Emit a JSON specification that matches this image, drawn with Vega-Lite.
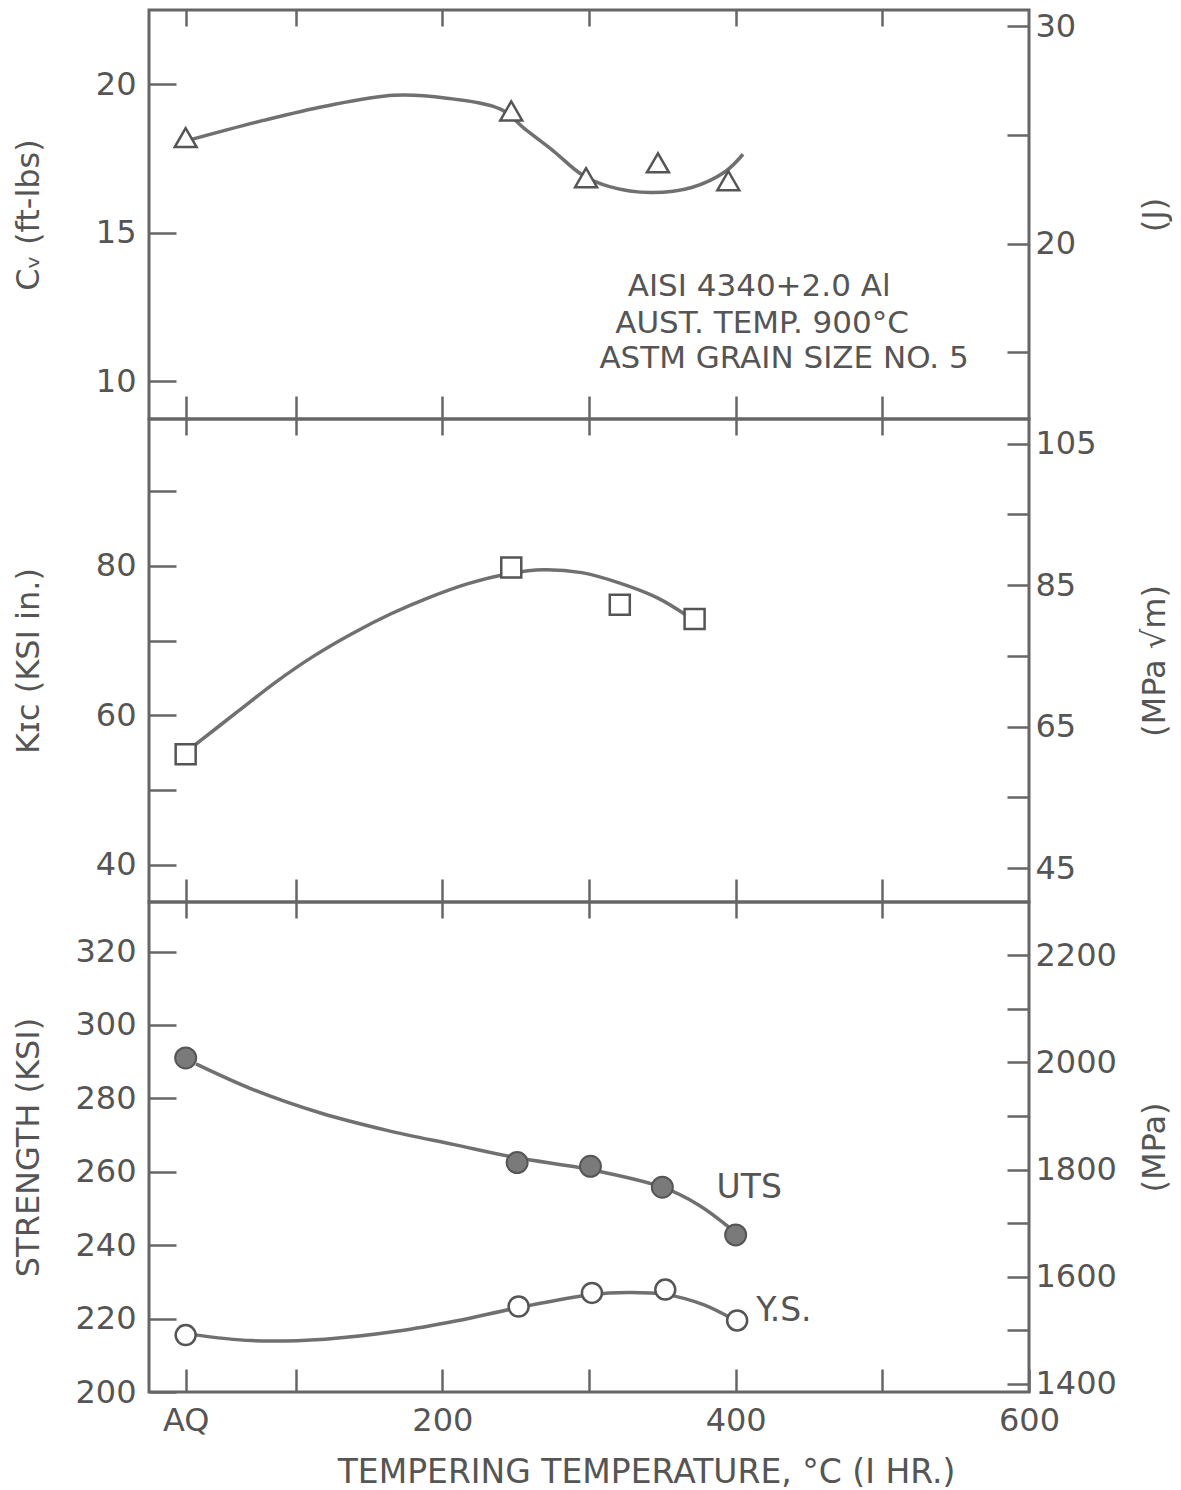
{
  "$schema": "https://vega.github.io/schema/vega-lite/v6.json",
  "background": "white",
  "padding": {"top": 7, "left": 10, "right": 5, "bottom": 5},
  "spacing": 0,
  "bounds": "flush",
  "config": {
    "view": {"stroke": "#666666", "strokeWidth": 3},
    "font": "DejaVu Sans",
    "axis": {
      "domain": false, "grid": false, "tickColor": "#666666", "tickWidth": 2.5,
      "labelColor": "#555555", "labelFont": "DejaVu Sans", "labelFontSize": 32,
      "titleColor": "#555555", "titleFont": "DejaVu Sans", "titleFontWeight": "normal", "titleFontSize": 32,
      "labelOverlap": false
    },
    "text": {"font": "DejaVu Sans", "color": "#555555"}
  },
  "datasets": {
    "cv": [{"T": 25, "v": 18.2}, {"T": 247, "v": 19.1}, {"T": 298, "v": 16.85}, {"T": 347, "v": 17.35}, {"T": 395, "v": 16.75}],
    "cvfit": [{"T": 29, "v": 18.14}, {"T": 78, "v": 18.78}, {"T": 120, "v": 19.26}, {"T": 167, "v": 19.63}, {"T": 203, "v": 19.53}, {"T": 240, "v": 19.15}, {"T": 256, "v": 18.5}, {"T": 276, "v": 17.74}, {"T": 295, "v": 16.96}, {"T": 314, "v": 16.55}, {"T": 342, "v": 16.35}, {"T": 370, "v": 16.52}, {"T": 393, "v": 17.06}, {"T": 405, "v": 17.64}],
    "notes": [{"T": 416, "v": 13.18, "text": "AISI 4340+2.0 Al"}, {"T": 418, "v": 11.93, "text": "AUST. TEMP. 900°C"}, {"T": 433, "v": 10.74, "text": "ASTM GRAIN SIZE NO. 5"}],
    "axJ": [{"T": 300, "v": 20}],
    "kic": [{"T": 25, "v": 54.8}, {"T": 247, "v": 79.8}, {"T": 321, "v": 74.8}, {"T": 372, "v": 72.9}],
    "kicfit": [{"T": 29, "v": 55.7}, {"T": 61, "v": 60.6}, {"T": 86, "v": 64.4}, {"T": 112, "v": 67.9}, {"T": 139, "v": 71.0}, {"T": 165, "v": 73.6}, {"T": 190, "v": 75.7}, {"T": 217, "v": 77.6}, {"T": 246, "v": 79.0}, {"T": 269, "v": 79.5}, {"T": 295, "v": 79.1}, {"T": 321, "v": 77.7}, {"T": 347, "v": 75.7}, {"T": 368, "v": 73.2}],
    "axM": [{"T": 300, "v": 75}],
    "uts": [{"T": 25, "v": 291.0}, {"T": 251, "v": 262.5}, {"T": 301, "v": 261.5}, {"T": 350, "v": 255.8}, {"T": 400, "v": 242.8}],
    "ys": [{"T": 25, "v": 215.5}, {"T": 252, "v": 223.3}, {"T": 302, "v": 227.0}, {"T": 352, "v": 227.9}, {"T": 401, "v": 219.5}],
    "utsfit": [{"T": 32, "v": 289.4}, {"T": 71, "v": 282.4}, {"T": 117, "v": 276.0}, {"T": 163, "v": 271.2}, {"T": 208, "v": 267.4}, {"T": 251, "v": 263.8}, {"T": 301, "v": 260.6}, {"T": 350, "v": 255.8}, {"T": 375, "v": 250.9}, {"T": 396, "v": 244.7}],
    "ysfit": [{"T": 29, "v": 215.7}, {"T": 70, "v": 214.0}, {"T": 120, "v": 214.4}, {"T": 170, "v": 216.6}, {"T": 210, "v": 219.4}, {"T": 252, "v": 223.0}, {"T": 301, "v": 226.5}, {"T": 327, "v": 227.1}, {"T": 352, "v": 226.6}, {"T": 378, "v": 223.8}, {"T": 396, "v": 220.3}],
    "slabels": [{"T": 387, "v": 255.5, "text": "UTS"}, {"T": 414, "v": 222.2, "text": "Y.S."}],
    "axP": [{"T": 300, "v": 1800}]
  },
  "vconcat": [
    {
      "width": 880, "height": 409,
      "layer": [
        {
          "encoding": {
            "x": {"field": "T", "type": "quantitative", "scale": {"domain": [0, 600], "nice": false, "zero": false},
                  "axis": {"orient": "bottom", "values": [25, 100, 200, 300, 400, 500], "tickSize": -23, "labels": false, "title": null}},
            "y": {"field": "v", "type": "quantitative", "scale": {"domain": [8.72, 22.5], "nice": false, "zero": false},
                  "axis": {"orient": "left", "values": [10, 15, 20], "tickSize": -27, "labelPadding": 40, "minExtent": 74, "maxExtent": 74,
                           "title": "Cᵥ (ft-lbs)", "titlePadding": 30, "titleAngle": 270, "titleBaseline": "bottom"}}
          },
          "layer": [
            {"data": {"name": "cvfit"}, "mark": {"type": "line", "interpolate": "catmull-rom", "stroke": "#707070", "strokeWidth": 3.5}},
            {"data": {"name": "cv"}, "mark": {"type": "point", "shape": "triangle-up", "filled": true, "fill": "white", "stroke": "#555555", "strokeWidth": 2.5, "size": 480, "opacity": 1}},
            {"data": {"name": "notes"}, "mark": {"type": "text", "fontSize": 31, "align": "center", "baseline": "middle", "color": "#555555"},
             "encoding": {"text": {"field": "text", "type": "nominal"}}}
          ]
        },
        {
          "data": {"name": "axJ"},
          "mark": {"type": "point", "opacity": 0},
          "encoding": {
            "x": {"field": "T", "type": "quantitative", "scale": {"domain": [0, 600], "nice": false, "zero": false},
                  "axis": {"orient": "top", "values": [25, 100, 200, 300, 400, 500], "tickSize": -16, "labels": false, "title": null}},
            "y": {"field": "v", "type": "quantitative", "scale": {"domain": [11.94, 30.74], "nice": false, "zero": false},
                  "axis": {"orient": "right", "values": [15, 20, 25, 30], "format": "d", "labelExpr": "datum.value % 10 == 0 ? datum.label : ''",
                           "tickSize": -22, "labelPadding": 28, "minExtent": 95, "maxExtent": 95,
                           "title": "(J)", "titlePadding": 15, "titleAngle": 270, "titleBaseline": "top"}}
          }
        }
      ],
      "resolve": {"scale": {"y": "independent"}, "axis": {"x": "independent"}}
    },
    {
      "width": 880, "height": 483,
      "layer": [
        {
          "encoding": {
            "x": {"field": "T", "type": "quantitative", "scale": {"domain": [0, 600], "nice": false, "zero": false},
                  "axis": {"orient": "bottom", "values": [25, 100, 200, 300, 400, 500], "tickSize": -23, "labels": false, "title": null}},
            "y": {"field": "v", "type": "quantitative", "scale": {"domain": [35.05, 99.65], "nice": false, "zero": false},
                  "axis": {"orient": "left", "values": [40, 50, 60, 70, 80, 90], "labelExpr": "datum.value % 20 == 0 ? datum.label : ''",
                           "tickSize": -27, "labelPadding": 40, "minExtent": 74, "maxExtent": 74,
                           "title": "Kɪᴄ (KSI   in.)", "titlePadding": 30, "titleAngle": 270, "titleBaseline": "bottom"}}
          },
          "layer": [
            {"data": {"name": "kicfit"}, "mark": {"type": "line", "interpolate": "catmull-rom", "stroke": "#707070", "strokeWidth": 3.5}},
            {"data": {"name": "kic"}, "mark": {"type": "point", "shape": "square", "filled": true, "fill": "white", "stroke": "#555555", "strokeWidth": 2.5, "size": 400, "opacity": 1}}
          ]
        },
        {
          "data": {"name": "axM"},
          "mark": {"type": "point", "opacity": 0},
          "encoding": {
            "x": {"field": "T", "type": "quantitative", "scale": {"domain": [0, 600], "nice": false, "zero": false},
                  "axis": {"orient": "top", "values": [25, 100, 200, 300, 400, 500], "tickSize": -16, "labels": false, "title": null}},
            "y": {"field": "v", "type": "quantitative", "scale": {"domain": [40.2, 108.5], "nice": false, "zero": false},
                  "axis": {"orient": "right", "values": [45, 55, 65, 75, 85, 95, 105], "format": "d", "labelExpr": "(datum.value - 45) % 20 == 0 ? datum.label : ''",
                           "tickSize": -22, "labelPadding": 28, "minExtent": 95, "maxExtent": 95,
                           "title": "(MPa √m)", "titlePadding": 15, "titleAngle": 270, "titleBaseline": "top"}}
          }
        }
      ],
      "resolve": {"scale": {"y": "independent"}, "axis": {"x": "independent"}}
    },
    {
      "width": 880, "height": 490,
      "layer": [
        {
          "encoding": {
            "x": {"field": "T", "type": "quantitative", "scale": {"domain": [0, 600], "nice": false, "zero": false},
                  "axis": {"orient": "bottom", "values": [25, 100, 200, 300, 400, 500, 600],
                           "labelExpr": "datum.value == 25 ? 'AQ' : (datum.value % 200 == 0 ? datum.label : '')",
                           "tickSize": -23, "labelPadding": 36, "labelFlush": false,
                           "title": "TEMPERING TEMPERATURE, °C (I HR.)", "titleFontSize": 33, "titlePadding": 20, "titleX": 497}},
            "y": {"field": "v", "type": "quantitative", "scale": {"domain": [200, 333.5], "nice": false, "zero": false},
                  "axis": {"orient": "left", "values": [200, 220, 240, 260, 280, 300, 320],
                           "tickSize": -27, "labelPadding": 40, "minExtent": 74, "maxExtent": 74,
                           "title": "STRENGTH (KSI)", "titlePadding": 30, "titleAngle": 270, "titleBaseline": "bottom"}}
          },
          "layer": [
            {"data": {"name": "utsfit"}, "mark": {"type": "line", "interpolate": "catmull-rom", "stroke": "#707070", "strokeWidth": 3.5}},
            {"data": {"name": "ysfit"}, "mark": {"type": "line", "interpolate": "catmull-rom", "stroke": "#707070", "strokeWidth": 3.5}},
            {"data": {"name": "uts"}, "mark": {"type": "point", "shape": "circle", "filled": true, "fill": "#7a7a7a", "stroke": "#555555", "strokeWidth": 2, "size": 440, "opacity": 1}},
            {"data": {"name": "ys"}, "mark": {"type": "point", "shape": "circle", "filled": true, "fill": "white", "stroke": "#555555", "strokeWidth": 2.5, "size": 400, "opacity": 1}},
            {"data": {"name": "slabels"}, "mark": {"type": "text", "fontSize": 33, "align": "left", "baseline": "middle", "color": "#555555"},
             "encoding": {"text": {"field": "text", "type": "nominal"}}}
          ]
        },
        {
          "data": {"name": "axP"},
          "mark": {"type": "point", "opacity": 0},
          "encoding": {
            "x": {"field": "T", "type": "quantitative", "scale": {"domain": [0, 600], "nice": false, "zero": false},
                  "axis": {"orient": "top", "values": [25, 100, 200, 300, 400, 500], "tickSize": -16, "labels": false, "title": null}},
            "y": {"field": "v", "type": "quantitative", "scale": {"domain": [1385, 2299], "nice": false, "zero": false},
                  "axis": {"orient": "right", "values": [1400, 1500, 1600, 1700, 1800, 1900, 2000, 2100, 2200], "format": "d",
                           "labelExpr": "datum.value % 200 == 0 ? datum.label : ''",
                           "tickSize": -22, "labelPadding": 28, "minExtent": 95, "maxExtent": 95,
                           "title": "(MPa)", "titlePadding": 15, "titleAngle": 270, "titleBaseline": "top"}}
          }
        }
      ],
      "resolve": {"scale": {"y": "independent"}, "axis": {"x": "independent"}}
    }
  ]
}
